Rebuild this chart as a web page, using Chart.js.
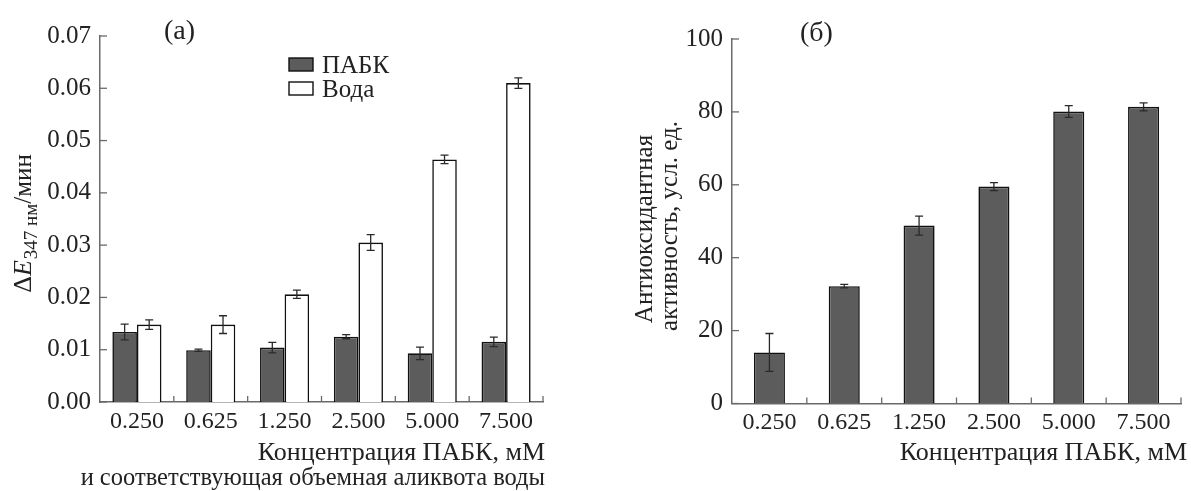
<!DOCTYPE html>
<html>
<head>
<meta charset="utf-8">
<script src="https://cdn.jsdelivr.net/npm/chart.js@4"></script>
<style>
  html, body { margin: 0; padding: 0; background: #fff; }
  body { width: 1191px; height: 491px; position: relative; overflow: hidden; }
  .box { position: absolute; top: 0; height: 491px; }
  #boxA { left: 0; width: 590px; }
  #boxB { left: 590px; width: 601px; }
</style>
</head>
<body>
<div class="box" id="boxA"><canvas id="chartA"></canvas></div>
<div class="box" id="boxB"><canvas id="chartB"></canvas></div>
<script>
// ---- data ----
const categories = ['0.250', '0.625', '1.250', '2.500', '5.000', '7.500'];
const pabkValues = [0.0134, 0.0099, 0.0104, 0.0125, 0.0093, 0.0115];
const pabkErrors = [0.0015, 0.0002, 0.0010, 0.0004, 0.0012, 0.0009];
const waterValues = [0.0148, 0.0148, 0.0206, 0.0305, 0.0464, 0.0610];
const waterErrors = [0.0009, 0.0017, 0.0008, 0.0015, 0.0008, 0.0010];
const antioxValues = [14.0, 32.2, 48.8, 59.5, 80.1, 81.4];
const antioxErrors = [5.2, 0.5, 2.6, 1.1, 1.6, 1.1];
const leftTickValues = [0, 0.01, 0.02, 0.03, 0.04, 0.05, 0.06, 0.07];
const rightTickValues = [0, 20, 40, 60, 80, 100];
const seriesNames = ['ПАБК', 'Вода'];

// ---- style ----
const FONT = '"Liberation Serif", "Times New Roman", serif';
const TEXT = '#222';
const AXIS = '#6a6a6a';
const GRAY = '#5c5c5c';
const EDGE = '#111';

Chart.defaults.font.family = FONT;
Chart.defaults.color = TEXT;
Chart.defaults.animation = false;

// error bars + inward ticks + separators
const decorPlugin = {
  id: 'decor',
  afterDatasetsDraw(chart, args, opts) {
    const ctx = chart.ctx;
    const xs = chart.scales.x, ys = chart.scales.y;
    const area = chart.chartArea;
    ctx.save();
    ctx.strokeStyle = '#2a2a2a';
    ctx.lineWidth = 1.3;
    chart.data.datasets.forEach((ds, di) => {
      const meta = chart.getDatasetMeta(di);
      meta.data.forEach((el, i) => {
        const v = ds.data[i], e = ds.errors[i];
        const yt = ys.getPixelForValue(v + e);
        const yb = ys.getPixelForValue(v - e);
        const cw = opts.cap;
        ctx.beginPath();
        ctx.moveTo(el.x, yt); ctx.lineTo(el.x, yb);
        ctx.moveTo(el.x - cw, yt); ctx.lineTo(el.x + cw, yt);
        ctx.moveTo(el.x - cw, yb); ctx.lineTo(el.x + cw, yb);
        ctx.stroke();
      });
    });
    ctx.strokeStyle = AXIS;
    ctx.lineWidth = 1.3;
    ys.ticks.forEach((t, i) => {
      const y = ys.getPixelForTick(i);
      ctx.beginPath();
      ctx.moveTo(area.left, y); ctx.lineTo(area.left + 7, y);
      ctx.stroke();
    });
    const n = xs.ticks.length;
    for (let i = 0; i < n; i++) {
      let x;
      if (i < n - 1) x = (xs.getPixelForTick(i) + xs.getPixelForTick(i + 1)) / 2;
      else x = area.right;
      ctx.beginPath();
      ctx.moveTo(x, area.bottom); ctx.lineTo(x, area.bottom - 6);
      ctx.stroke();
    }
    ctx.restore();
  }
};

const textPlugin = {
  id: 'texts',
  afterDraw(chart, args, opts) {
    const ctx = chart.ctx;
    ctx.save();
    ctx.fillStyle = TEXT;
    opts.draw(ctx, chart);
    ctx.restore();
  }
};

function makeOptions(yMin, yMax, tickVals, fmt, yFont, pad, yWidth, xHeight, cap, drawFn) {
  return {
    responsive: false,
    maintainAspectRatio: false,
    animation: false,
    layout: { padding: pad },
    plugins: {
      legend: { display: false },
      tooltip: { enabled: false },
      decor: { cap: cap },
      texts: { draw: drawFn }
    },
    scales: {
      x: {
        type: 'category',
        offset: true,
        grid: { display: false, drawTicks: false },
        border: { display: true, color: AXIS, width: 1.5 },
        ticks: { font: { size: 24 }, color: TEXT, padding: 5, maxRotation: 0 },
        afterFit(s) { s.height = xHeight; }
      },
      y: {
        min: yMin, max: yMax,
        grid: { display: false, drawTicks: false },
        border: { display: true, color: AXIS, width: 1.5 },
        afterBuildTicks(s) { s.ticks = tickVals.map(v => ({ value: v })); },
        ticks: { font: { size: yFont }, color: TEXT, padding: 9, callback: fmt },
        afterFit(s) { s.width = yWidth; }
      }
    }
  };
}

// ---- left chart ----
const cA = document.getElementById('chartA');
cA.width = 590; cA.height = 491;
new Chart(cA, {
  type: 'bar',
  data: {
    labels: categories,
    datasets: [
      { label: seriesNames[0], data: pabkValues, errors: pabkErrors,
        backgroundColor: GRAY, borderColor: EDGE, borderWidth: 1.6,
        categoryPercentage: 0.665, barPercentage: 1.0 },
      { label: seriesNames[1], data: waterValues, errors: waterErrors,
        backgroundColor: '#ffffff', borderColor: EDGE, borderWidth: 1.6,
        categoryPercentage: 0.665, barPercentage: 1.0 }
    ]
  },
  options: makeOptions(0, 0.07, leftTickValues, v => Number(v).toFixed(2), 25,
    { left: 0, right: 47, top: 36, bottom: 0 }, 100, 89, 4,
    function (ctx, chart) {
      const ds = chart.data.datasets;
      ctx.font = '28px ' + FONT;
      ctx.textAlign = 'left'; ctx.textBaseline = 'alphabetic';
      ctx.fillText('(а)', 164, 39);
      ctx.font = '25px ' + FONT;
      [[58, 0], [82, 1]].forEach(([y, i]) => {
        ctx.fillStyle = ds[i].backgroundColor;
        ctx.fillRect(289, y, 24, 13);
        ctx.strokeStyle = EDGE; ctx.lineWidth = 1.4;
        ctx.strokeRect(289, y, 24, 13);
        ctx.fillStyle = TEXT;
        ctx.fillText(ds[i].label, 322, y + 15);
      });
      ctx.textAlign = 'right';
      ctx.font = '26px ' + FONT;
      ctx.fillText('Концентрация ПАБК, мМ', 545, 460);
      ctx.font = '24.5px ' + FONT;
      ctx.fillText('и соответствующая объемная аликвота воды', 545, 485);
      ctx.save();
      ctx.translate(31, 224);
      ctx.rotate(-Math.PI / 2);
      const parts = [
        { t: 'Δ', f: '26px ' + FONT, dy: 0 },
        { t: 'E', f: 'italic 26px ' + FONT, dy: 0 },
        { t: '347 нм', f: '19px ' + FONT, dy: 6 },
        { t: '/мин', f: '25px ' + FONT, dy: 0 }
      ];
      let total = 0;
      parts.forEach(p => { ctx.font = p.f; p.w = ctx.measureText(p.t).width; total += p.w; });
      let x = -total / 2;
      ctx.textAlign = 'left';
      parts.forEach(p => { ctx.font = p.f; ctx.fillText(p.t, x, p.dy); x += p.w + (p.t === 'E' ? 1 : 0); });
      ctx.restore();
    })
  ,
  plugins: [decorPlugin, textPlugin]
});

// ---- right chart ----
const cB = document.getElementById('chartB');
cB.width = 601; cB.height = 491;
new Chart(cB, {
  type: 'bar',
  data: {
    labels: categories,
    datasets: [
      { label: 'Антиоксидантная активность', data: antioxValues, errors: antioxErrors,
        backgroundColor: GRAY, borderColor: EDGE, borderWidth: 1.6,
        categoryPercentage: 0.415, barPercentage: 1.0 }
    ]
  },
  options: makeOptions(0, 100, rightTickValues, v => String(v), 25,
    { left: 0, right: 10, top: 39, bottom: 0 }, 142, 87.5, 4,
    function (ctx, chart) {
      ctx.font = '28px ' + FONT;
      ctx.textAlign = 'left'; ctx.textBaseline = 'alphabetic';
      ctx.fillText('(б)', 210, 41);
      ctx.textAlign = 'right';
      ctx.font = '26px ' + FONT;
      ctx.fillText('Концентрация ПАБК, мМ', 597, 460);
      ctx.save();
      ctx.rotate(-Math.PI / 2);
      ctx.textAlign = 'center';
      ctx.font = '25px ' + FONT;
      ctx.fillText('Антиоксидантная', -229, 62);
      ctx.fillText('активность, усл. ед.', -226, 87);
      ctx.restore();
    })
  ,
  plugins: [decorPlugin, textPlugin]
});
</script>
</body>
</html>
